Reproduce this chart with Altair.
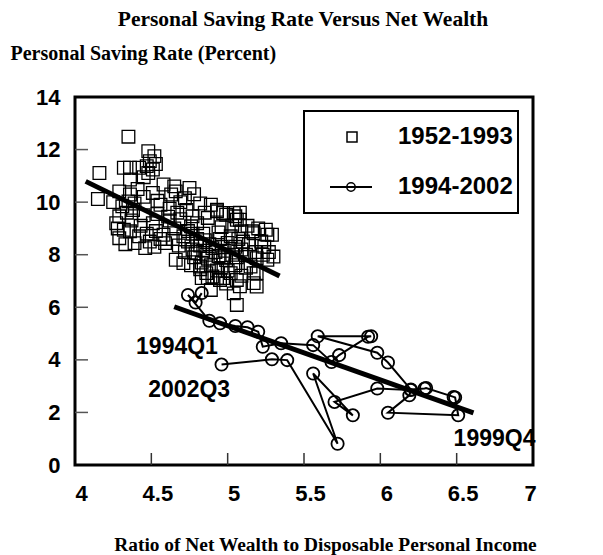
import altair as alt
import pandas as pd

# ---- data ----
# 1952-1993 (squares)
sq_x = [4.35, 4.16, 4.15, 4.48, 4.52, 4.49, 4.47, 4.51, 4.48, 4.53, 4.32, 4.36, 4.42, 4.36, 4.45,
        4.29, 4.36, 4.35, 4.31, 4.58, 4.75, 4.66, 4.63, 4.41, 4.45, 4.51, 4.54, 4.56, 4.69, 4.72,
        4.25, 4.39, 4.62, 4.78, 4.82,
        4.29, 4.32, 4.29, 4.36, 4.39, 4.46, 4.27, 4.34, 4.37, 4.43, 4.45, 4.47, 4.51, 4.42, 4.33,
        4.49, 4.53, 4.54,
        4.58, 4.59, 4.77, 4.76, 4.89, 4.93, 4.99, 5.05, 5.06, 5.08, 4.62, 4.65, 4.67, 4.71, 4.74,
        4.80, 4.84, 4.87, 4.64, 4.69, 4.96, 5.03, 4.97, 5.04, 4.93,
        4.66, 4.71, 4.77, 4.79, 4.82, 4.84, 4.86, 4.88, 4.90, 4.78, 4.83, 4.87, 4.92, 4.94, 4.96,
        4.98, 5.00, 5.03, 5.05, 5.07, 5.09, 4.74, 4.76, 4.80, 4.85, 4.89, 4.95, 4.99, 5.02, 5.06,
        5.10, 4.72, 4.82, 4.93, 4.97, 5.12,
        5.09, 5.16, 5.17, 5.26, 5.29, 5.30, 5.26, 5.19, 5.15, 5.19, 5.14, 5.18, 5.22, 5.24, 5.27,
        5.13, 5.20, 5.23,
        4.82, 4.86, 4.90, 4.95, 5.02, 5.06, 5.04, 5.06, 4.89, 5.17, 5.17, 5.19, 4.83, 4.87, 4.93,
        4.97, 5.08, 4.99, 5.12, 5.05, 5.09, 4.96,
        4.28, 4.38, 4.52, 4.56, 4.61, 4.68, 4.73, 4.85, 4.94, 5.08, 5.25, 5.00, 4.77, 4.65]
sq_y = [12.49, 11.11, 10.12, 11.94, 11.75, 11.56, 11.37, 11.24, 11.11, 11.45, 11.31, 11.31, 11.31, 10.86, 10.95,
        10.41, 10.29, 10.03, 9.84, 10.67, 10.54, 10.41, 10.29, 10.50, 10.20, 10.35, 10.05, 9.90, 10.00, 10.15,
        10.00, 9.95, 9.75, 10.30, 9.95,
        9.46, 8.95, 8.63, 8.89, 8.44, 8.25, 9.20, 9.60, 9.30, 9.10, 9.50, 8.80, 9.20, 8.70, 8.40,
        8.50, 8.90, 9.55,
        8.76, 8.44, 9.46, 9.08, 9.90, 9.65, 9.52, 9.46, 9.33, 9.33, 9.30, 9.00, 9.60, 8.70, 8.90,
        9.20, 8.80, 9.40, 8.60, 9.35, 9.05, 9.10, 9.59, 9.59, 9.71,
        7.81, 7.68, 8.20, 8.05, 8.35, 8.15, 8.00, 8.40, 8.25, 7.90, 7.70, 7.85, 8.10, 7.95, 8.30,
        8.15, 8.45, 8.00, 8.30, 8.60, 8.20, 8.50, 7.60, 8.60, 8.55, 7.60, 8.60, 7.80, 8.70, 7.90,
        8.50, 8.10, 7.45, 7.40, 7.90, 8.00,
        8.89, 8.89, 8.82, 8.76, 8.76, 7.93, 7.81, 7.87, 7.55, 7.30, 8.40, 8.10, 8.50, 8.30, 8.10,
        9.10, 9.00, 8.00,
        7.55, 7.30, 7.17, 7.04, 7.30, 7.04, 6.53, 6.09, 6.66, 7.30, 6.92, 6.79, 7.11, 7.11, 7.11,
        7.11, 6.80, 6.90, 7.50, 7.60, 7.20, 7.50,
        9.00, 9.70, 8.30, 8.60, 9.45, 8.35, 9.70, 9.60, 8.85, 9.60, 8.95, 7.40, 8.80, 10.60]

# 1994Q1 - 2002Q3 (circles, in time order)
ci_x = [4.83, 4.79, 4.74, 4.88, 4.95, 5.05, 5.13, 5.20, 5.23, 5.35, 5.56, 5.68, 5.73, 5.92, 5.94,
        5.59, 5.98, 6.05, 6.20, 6.29, 6.30, 6.48, 6.49, 6.51, 6.05, 6.19, 6.20, 5.98, 5.70, 5.82,
        5.56, 5.72, 5.39, 5.29, 4.96]
ci_y = [6.54, 6.18, 6.47, 5.49, 5.39, 5.29, 5.24, 5.07, 4.50, 4.63, 4.56, 3.92, 4.18, 4.88, 4.90,
        4.90, 4.27, 3.90, 2.87, 2.91, 2.93, 2.59, 2.57, 1.89, 1.99, 2.65, 2.85, 2.91, 2.40, 1.89,
        3.48, 0.81, 3.99, 4.02, 3.82]

# fitted lines
fit_group = ["1952-1993", "1952-1993", "1994-2002", "1994-2002"]
fit_x = [4.07, 5.34, 4.65, 6.61]
fit_y = [10.79, 7.19, 6.02, 1.98]

x_ticks = [4, 4.5, 5, 5.5, 6, 6.5, 7]
y_ticks = [0, 2, 4, 6, 8, 10, 12, 14]

ann_text = ["1994Q1", "2002Q3", "1999Q4"]
ann_x = [4.40, 4.48, 6.48]
ann_y = [4.50, 2.85, 1.00]

legend_labels = ["1952-1993", "1994-2002"]

title_text = "Personal Saving Rate Versus Net Wealth"
y_title = "Personal Saving Rate (Percent)"
x_title = "Ratio of Net Wealth to Disposable Personal Income"

# ---- layout ----
W, H = 458, 368
SANS = "Liberation Sans"
SERIF = "Liberation Serif"

xs = alt.Scale(domain=[4, 7], nice=False, zero=False)
ys = alt.Scale(domain=[0, 14], nice=False, zero=False)

sq = pd.DataFrame({"x": sq_x, "y": sq_y})
ci = pd.DataFrame({"x": ci_x, "y": ci_y, "i": list(range(len(ci_x)))})
fit = pd.DataFrame({"g": fit_group, "x": fit_x, "y": fit_y})
ann = pd.DataFrame({"t": ann_text, "x": ann_x, "y": ann_y})
xt = pd.DataFrame({"v": x_ticks[1:-1]})
yt = pd.DataFrame({"v": y_ticks[1:-1]})
one = pd.DataFrame({"a": [0]})

X = alt.X("x:Q", scale=xs, axis=alt.Axis(
    values=x_ticks, format="~g", labelFont=SANS, labelFontWeight="bold", labelFontSize=22,
    labelColor="black", labelPadding=18, labelFlush=False, labelOverlap=False,
    labelOffset={"condition": {"test": "datum.value == 7", "value": -3}, "value": 6},
    ticks=False, domain=False, grid=False,
    title=x_title, titleFont=SERIF, titleFontWeight="bold", titleFontSize=19.4,
    titleColor="black", titleX=250, titleY=79, titleAlign="center", titleBaseline="middle"))
Y = alt.Y("y:Q", scale=ys, axis=alt.Axis(
    values=y_ticks, format="~g", labelFont=SANS, labelFontWeight="bold", labelFontSize=22,
    labelColor="black", labelPadding=15, labelFlush=False, labelOverlap=False,
    ticks=False, domain=False, grid=False,
    title=y_title, titleFont=SERIF, titleFontWeight="bold", titleFontSize=20,
    titleColor="black", titleAngle=0, titleX=-65, titleY=-44, titleAlign="left",
    titleBaseline="middle"))

squares = alt.Chart(sq).mark_point(shape="square", size=160, filled=False,
                                   stroke="black", strokeWidth=1.3, opacity=1).encode(x=X, y=Y)

path = alt.Chart(ci).mark_line(color="black", strokeWidth=2).encode(
    x=alt.X("x:Q", scale=xs), y=alt.Y("y:Q", scale=ys), order="i:Q")
circles = alt.Chart(ci).mark_point(shape="circle", size=150, filled=False,
                                   stroke="black", strokeWidth=1.8, opacity=1).encode(
    x=alt.X("x:Q", scale=xs), y=alt.Y("y:Q", scale=ys))

fitlines = alt.Chart(fit).mark_line(color="black", strokeWidth=5).encode(
    x=alt.X("x:Q", scale=xs), y=alt.Y("y:Q", scale=ys), detail="g:N")

xticks = alt.Chart(xt).mark_rule(color="#333", strokeWidth=1.5).encode(
    x=alt.X("v:Q", scale=xs), y=alt.value(H), y2=alt.value(H - 12))
yticks = alt.Chart(yt).mark_rule(color="#555", strokeWidth=1.5).encode(
    y=alt.Y("v:Q", scale=ys), x=alt.value(0), x2=alt.value(13))

annot = alt.Chart(ann).mark_text(font=SANS, fontWeight="bold", fontSize=23, align="left",
                                 baseline="middle", color="black").encode(
    x=alt.X("x:Q", scale=xs), y=alt.Y("y:Q", scale=ys), text="t:N")

# legend (drawn by hand)
leg_box = alt.Chart(one).mark_rect(fill="white", stroke="black", strokeWidth=2).encode(
    x=alt.value(229), x2=alt.value(443), y=alt.value(14), y2=alt.value(116))
leg_sq = alt.Chart(one).mark_point(shape="square", size=100, filled=False, stroke="black",
                                   strokeWidth=1.5, opacity=1).encode(
    x=alt.value(277), y=alt.value(40))
leg_line = alt.Chart(one).mark_rule(color="black", strokeWidth=2).encode(
    x=alt.value(255), x2=alt.value(297), y=alt.value(90))
leg_ci = alt.Chart(one).mark_point(shape="circle", size=70, filled=False, stroke="black",
                                   strokeWidth=1.5, opacity=1).encode(
    x=alt.value(276), y=alt.value(90))
leg_t1 = alt.Chart(pd.DataFrame({"t": [legend_labels[0]]})).mark_text(
    font=SANS, fontWeight="bold", fontSize=24, align="left", baseline="middle", color="black"
).encode(x=alt.value(323), y=alt.value(40), text="t:N")
leg_t2 = alt.Chart(pd.DataFrame({"t": [legend_labels[1]]})).mark_text(
    font=SANS, fontWeight="bold", fontSize=24, align="left", baseline="middle", color="black"
).encode(x=alt.value(323), y=alt.value(90), text="t:N")

main_title = alt.Chart(pd.DataFrame({"t": [title_text]})).mark_text(
    font=SERIF, fontWeight="bold", fontSize=21.5, align="center", baseline="middle", color="black"
).encode(x=alt.value(228), y=alt.value(-77), text="t:N")

chart = alt.layer(
    squares, path, circles, fitlines, xticks, yticks, annot,
    leg_box, leg_sq, leg_line, leg_ci, leg_t1, leg_t2, main_title
).properties(
    width=W, height=H,
    autosize=alt.AutoSizeParams(type="none"),
    padding={"left": 67, "top": 89, "right": 53, "bottom": 91},
).configure_view(stroke="black", strokeWidth=3)

chart.save("out.html", embed_options={"renderer": "svg", "actions": False})
